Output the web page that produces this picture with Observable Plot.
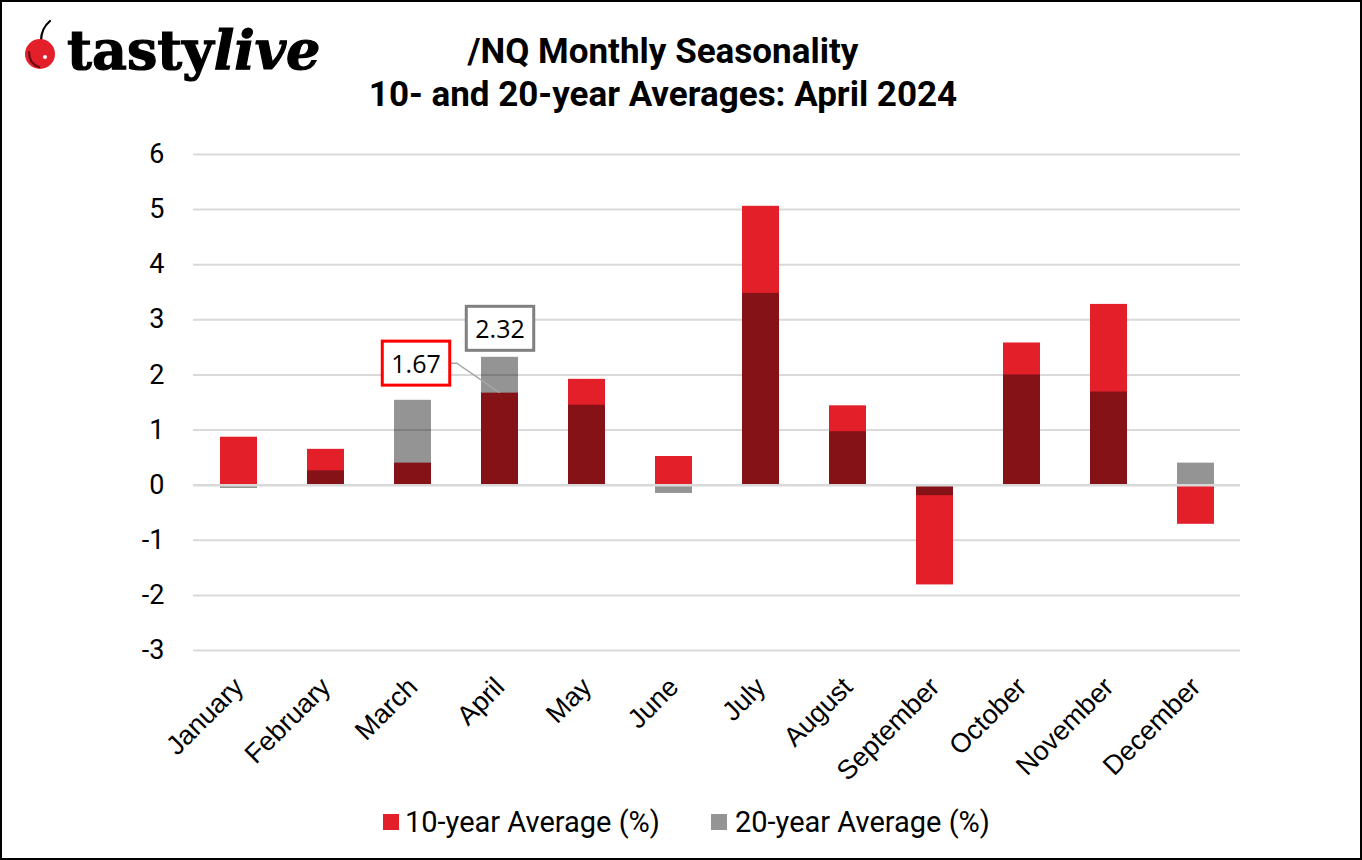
<!DOCTYPE html>
<html>
<head>
<meta charset="utf-8">
<script src="https://cdn.jsdelivr.net/npm/d3@7"></script>
<script src="https://cdn.jsdelivr.net/npm/@observablehq/plot@0.6"></script>
<style>
  html, body { margin: 0; padding: 0; background: #fff; }
  #page { position: relative; width: 1362px; height: 860px; overflow: hidden; background: #fff; font-family: Roboto, sans-serif; color: #000; }
  #frame { position: absolute; left: 0; top: 0; width: 1362px; height: 860px; box-sizing: border-box; border: 2px solid #000; pointer-events: none; }
  #logo { position: absolute; left: 0; top: 0; }
  .title { position: absolute; left: -18px; width: 1362px; text-align: center; font-family: Roboto, sans-serif; font-weight: 700; font-size: 35px; line-height: 42px; white-space: nowrap; }
  #chart { position: absolute; left: 0; top: 130px; }
  .sw { position: absolute; width: 16px; height: 16px; }
  .lt { position: absolute; font-family: Roboto, sans-serif; font-size: 29px; line-height: 32px; white-space: nowrap; }
</style>
</head>
<body>
<div id="page">
  <svg id="logo" width="360" height="100" viewBox="0 0 360 100">
    <path d="M41,41 C41,33 44,26 50,21" fill="none" stroke="#000" stroke-width="2.2" stroke-linecap="round"/>
    <circle cx="40" cy="54" r="15" fill="#E31F29"/>
    <path d="M29,52 C29,60 33,65 39,67" fill="none" stroke="#6b0d10" stroke-width="2.2" stroke-linecap="round"/>
    <circle cx="45" cy="57" r="2" fill="#fff"/>
    <text x="67" y="69" font-family="DejaVu Serif" font-weight="700" font-size="54" letter-spacing="0" fill="#000" stroke="#000" stroke-width="1.2">tasty<tspan font-style="italic">live</tspan></text>
  </svg>
  <div class="title" style="top:31px">/NQ Monthly Seasonality</div>
  <div class="title" style="top:74px">10- and 20-year Averages: April 2024</div>
  <div id="chart"></div>
  <div class="sw" style="left:383px;top:814px;background:#E31F29"></div>
  <div class="lt" style="left:405px;top:806px">10-year Average (%)</div>
  <div class="sw" style="left:711px;top:814px;background:#949494"></div>
  <div class="lt" style="left:735px;top:806px">20-year Average (%)</div>
  <div id="frame"></div>
</div>
<script>
const months = ["January","February","March","April","May","June","July","August","September","October","November","December"];
const avg10 = [0.87, 0.65, 0.40, 1.67, 1.92, 0.52, 5.06, 1.44, -1.81, 2.58, 3.28, -0.71];
const avg20 = [-0.06, 0.26, 1.54, 2.32, 1.45, -0.15, 3.48, 0.97, -0.19, 2.00, 1.69, 0.40];
const yTicks = [-3, -2, -1, 0, 1, 2, 3, 4, 5, 6];
const calloutMonth = "April";

const data10 = months.map((m, i) => ({month: m, value: avg10[i]}));
const data20 = months.map((m, i) => ({month: m, value: avg20[i]}));
const ci = months.indexOf(calloutMonth);
const lab10 = avg10[ci].toFixed(2);
const lab20 = avg20[ci].toFixed(2);
const call10 = [{month: calloutMonth, value: avg10[ci], label: lab10}];
const call20 = [{month: calloutMonth, value: avg20[ci], label: lab20}];

const plot = Plot.plot({
  width: 1362,
  height: 670,
  marginLeft: 193,
  marginRight: 122,
  marginTop: 24,
  marginBottom: 150,
  x: {domain: months, paddingInner: 0.58, paddingOuter: 0.29, label: null},
  y: {domain: [-3, 6], ticks: yTicks, label: null},
  style: {fontFamily: "Roboto, sans-serif", background: "transparent", color: "#000", overflow: "visible"},
  marks: [
    Plot.ruleY(yTicks.filter(d => d !== 0), {stroke: "#D9D9D9", strokeWidth: 2}),
    Plot.barY(data10, {x: "month", y: "value", fill: "#E31F29"}),
    Plot.barY(data20, {x: "month", y: "value", fill: "#000", fillOpacity: 0.42}),
    Plot.ruleY([0], {stroke: "#D9D9D9", strokeWidth: 2.5}),
    Plot.axisY({ticks: yTicks, tickSize: 0, tickPadding: 29, fontSize: 27, tickFormat: d => String(d)}),
    Plot.axisX({tickSize: 0, tickRotate: -45, tickPadding: 32, dx: 0, fontSize: 27, fontFamily: "Liberation Sans, Arial, sans-serif"}),
    Plot.text(call10, {x: "month", y: "value", text: "label", dx: -84, dy: -28, fontSize: 25, fontFamily: "Open Sans, sans-serif", fill: "#000"}),
    Plot.text(call20, {x: "month", y: "value", text: "label", dx: 0, dy: -27, fontSize: 25, fontFamily: "Open Sans, sans-serif", fill: "#000"})
  ]
});
document.getElementById("chart").append(plot);

// callout boxes and leader line
const svg = d3.select(plot);
const xs = plot.scale("x"), ys = plot.scale("y");
function findText(label) {
  return svg.selectAll("text").filter(function() { return this.textContent === label; }).node();
}
function boxFor(label, stroke) {
  const node = findText(label);
  if (!node) return null;
  const bb = node.getBBox();
  const padX = 9, padY = 6;
  const r = {x: bb.x - padX, y: bb.y - padY + 1, w: bb.width + 2 * padX, h: bb.height + 2 * padY - 2};
  d3.select(node.parentNode).insert("rect", () => node)
    .attr("x", r.x).attr("y", r.y).attr("width", r.w).attr("height", r.h)
    .attr("transform", node.getAttribute("transform"))
    .attr("fill", "#fff").attr("stroke", stroke).attr("stroke-width", 3);
  return {node, r};
}
const b10 = boxFor(lab10, "#FF0000");
const b20 = boxFor(lab20, "#808080");
if (b10) {
  const ctm = b10.node.getCTM();
  const svgCtm = plot.getCTM ? plot.getCTM() : null;
  const p = plot.createSVGPoint();
  p.x = b10.r.x + b10.r.w; p.y = b10.r.y + b10.r.h / 2;
  const q = p.matrixTransform(svgCtm ? svgCtm.inverse().multiply(ctm) : ctm);
  const cx = xs.apply(calloutMonth) + xs.bandwidth / 2;
  const cy = ys.apply(avg10[ci]);
  d3.select(plot).insert("path", () => b10.node.parentNode)
    .attr("d", `M${q.x},${q.y} L${q.x + 7},${q.y} L${cx},${cy}`)
    .attr("fill", "none").attr("stroke", "#A6A6A6").attr("stroke-width", 1.5);
}
</script>
</body>
</html>
